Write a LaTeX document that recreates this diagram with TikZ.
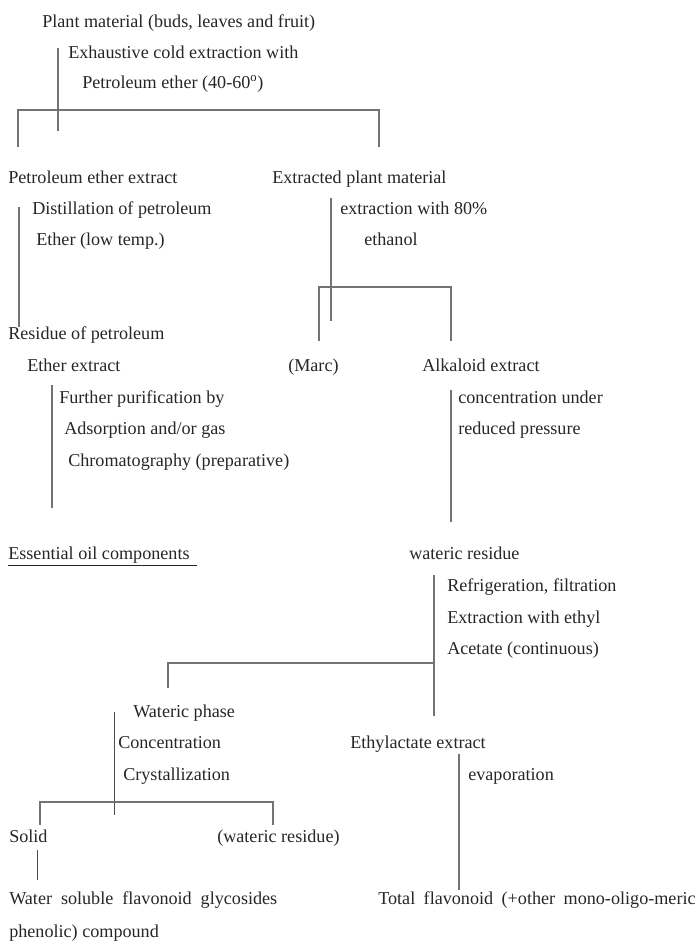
\documentclass[tikz,border=0pt]{standalone}
\usepackage{fontspec}
\setmainfont{Liberation Serif}
\usepackage{tikz}

\begin{document}
\begin{tikzpicture}[x=0.75pt,y=-0.75pt]
\tikzstyle{step text}=[anchor=west,inner sep=0pt,text height=9pt,text depth=3pt,yshift=-2pt,text=black!85,font=\fontsize{13.6}{16}\selectfont]
\tikzstyle{bar}=[draw=black!55,line width=1.1pt]
\tikzstyle{thin bar}=[draw=black!70,line width=0.7pt]
\useasboundingbox (0,0) rectangle (697,941);

\begin{scope}[every node/.style={step text}]
\node (plant) at (42,21) {Plant material (buds, leaves and fruit)};
\node (cold) at (68,52) {Exhaustive cold extraction with};
\node (solv) at (82,82) {Petroleum ether (40-60\textsuperscript{o})};
\node (PE) at (8,177) {Petroleum ether extract};
\node (EP) at (272,177) {Extracted plant material};
\node (dist) at (32,208) {Distillation of petroleum};
\node (low) at (36,239) {Ether (low temp.)};
\node (eth) at (340,208) {extraction with 80\%};
\node (ethl) at (364,239) {ethanol};
\node (R) at (8,333) {Residue of petroleum};
\node (R2) at (27,365) {Ether extract};
\node (M) at (288,365) {(Marc)};
\node (A) at (422,365) {Alkaloid extract};
\node (pur) at (59,397) {Further purification by};
\node (ads) at (64,428) {Adsorption and/or gas};
\node (chr) at (68,460) {Chromatography (preparative)};
\node (con) at (458,397) {concentration under};
\node (red) at (458,428) {reduced pressure};
\node (E) at (8,553) {\underline{Essential oil components\ \,}};
\node (W) at (409,553) {wateric residue};
\node (ref) at (447,585) {Refrigeration, filtration};
\node (exe) at (447,617) {Extraction with ethyl};
\node (ace) at (447,648) {Acetate (continuous)};
\node (P) at (133,711) {Wateric phase};
\node (conc) at (118,742) {Concentration};
\node (cry) at (123,774) {Crystallization};
\node (EA) at (350,742) {Ethylactate extract};
\node (eva) at (468,774) {evaporation};
\node (S) at (9,836) {Solid};
\node (WR) at (217,836) {(wateric residue)};
\node (F) at (9,898) {\makebox[201pt][s]{Water soluble flavonoid glycosides}};
\node (F2) at (9,931) {phenolic) compound};
\node (T) at (378,898) {\makebox[238pt][s]{Total flavonoid (+other mono-oligo-meric}};
\end{scope}

% bracket ends
\coordinate (a1) at (58,48);   \coordinate (a2) at (58,131);
\coordinate (b1) at (18,147);  \coordinate (b2) at (18,110);
\coordinate (b3) at (379,110); \coordinate (b4) at (379,147);
\coordinate (c1) at (19,207);  \coordinate (c2) at (19,327);
\coordinate (d1) at (331,198); \coordinate (d2) at (331,321);
\coordinate (e1) at (319,341); \coordinate (e2) at (319,287);
\coordinate (e3) at (451,287); \coordinate (e4) at (451,341);
\coordinate (f1) at (52,385);  \coordinate (f2) at (52,508);
\coordinate (g1) at (451,390); \coordinate (g2) at (451,522);
\coordinate (h1) at (434,575); \coordinate (h2) at (434,716);
\coordinate (i1) at (168,688); \coordinate (i2) at (168,663);
\coordinate (i3) at (434,663);
\coordinate (j1) at (114,712); \coordinate (j2) at (114,815);
\coordinate (k1) at (40,825);  \coordinate (k2) at (40,802);
\coordinate (k3) at (273,802); \coordinate (k4) at (273,825);
\coordinate (l1) at (37,850);  \coordinate (l2) at (37,880);
\coordinate (m1) at (459,754); \coordinate (m2) at (459,890);

\draw[bar] (a1) -- (a2);
\draw[bar] (b1) -- (b2) -- (b3) -- (b4);
\draw[bar] (c1) -- (c2);
\draw[bar] (d1) -- (d2);
\draw[bar] (e1) -- (e2) -- (e3) -- (e4);
\draw[bar] (f1) -- (f2);
\draw[bar] (g1) -- (g2);
\draw[bar] (h1) -- (h2);
\draw[bar] (i1) -- (i2) -- (i3);
\draw[thin bar] (j1) -- (j2);
\draw[bar] (k1) -- (k2) -- (k3) -- (k4);
\draw[thin bar] (l1) -- (l2);
\draw[bar] (m1) -- (m2);
\end{tikzpicture}
\end{document}
